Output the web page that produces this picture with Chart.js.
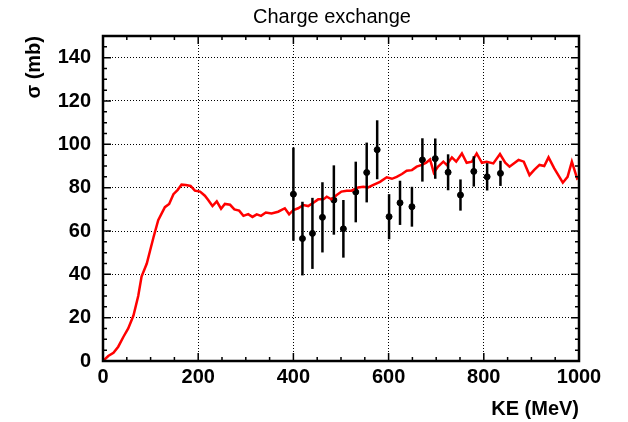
<!DOCTYPE html>
<html>
<head>
<meta charset="utf-8">
<script src="https://cdn.jsdelivr.net/npm/chart.js@4.4.1/dist/chart.umd.min.js"></script>
<style>
  html, body { margin: 0; padding: 0; background: #fff; }
</style>
</head>
<body>
<canvas id="chart" width="628" height="422"></canvas>
<script>
// model curve (red line)
const curveKE = [0, 11, 22, 32, 43, 53, 64, 74, 81, 92, 99, 106, 116, 130, 139, 148, 157, 165, 174, 184,
  193, 204, 214, 221, 230, 239, 248, 256, 267, 276, 286, 295, 305, 314, 323, 332, 342, 354, 368, 382,
  391, 400, 410, 421, 431, 442, 452, 463, 470, 480, 491, 501, 512, 522, 536, 547, 557, 567, 582, 596,
  607, 617, 628, 638, 649, 659, 670, 679, 687, 695, 704, 715, 722, 733, 742, 754, 764, 775, 785, 796,
  806, 820, 834, 845, 854, 863, 873, 884, 896, 906, 917, 927, 936, 948, 966, 976, 985, 996, 1000];
const curveSigma = [0, 2.3, 3.8, 6.6, 11.2, 15, 21, 30, 39, 45, 51, 57, 65, 71, 72.5, 77, 79, 81.4, 81.2, 80.8,
  78.6, 78.2, 76.3, 74.3, 71.5, 73.7, 70.3, 72.5, 72.1, 70, 69.4, 67, 67.8, 66.5, 67.7, 67, 68.5, 68.1, 68.9, 70.5,
  67.7, 69.7, 70.5, 72, 71.5, 73, 74.6, 74.6, 75.8, 74.6, 76.6, 78.2, 78.6, 78.6, 80.1, 80.4, 80.1, 81.2, 82.7, 84.8,
  84.1, 85, 86.3, 87.8, 88.1, 89.7, 90.5, 91.5, 93, 86.9, 89.7, 92, 90.5, 94, 92, 95.8, 91.5, 92, 95.8, 91.5,
  92, 91.2, 95.5, 91.5, 89.7, 91.2, 92.8, 92, 85.8, 88.2, 90.5, 90, 94, 88.9, 82.3, 85, 92, 84.3, 85];

// measured points with errors
const dataKE = [400, 419, 440, 461, 485, 505, 531, 554, 576, 601, 624, 649, 671, 698, 725, 751, 779, 807, 835];
const dataSigma = [77, 56.5, 58.9, 66.3, 74.3, 61, 78, 87, 97.5, 66.6, 73, 71.2, 92.8, 93.4, 87.1, 76.6, 87.5, 85, 86.6];
const dataErr = [21.5, 17, 16.4, 16.2, 16, 13.3, 14, 13.8, 13.6, 10.4, 10.2, 9.2, 10, 9.3, 8.3, 7.2, 7, 6.3, 5.8];

const xTicks = [0, 200, 400, 600, 800, 1000];
const yTicks = [0, 20, 40, 60, 80, 100, 120, 140];

const FONT = '"Liberation Sans", Arial, Helvetica, sans-serif';

const errorBars = {
  id: 'errorBars',
  afterDatasetsDraw(chart) {
    const { ctx, scales: { x, y } } = chart;
    ctx.save();
    ctx.strokeStyle = '#000';
    ctx.lineWidth = 2.5;
    dataKE.forEach((e, i) => {
      const px = x.getPixelForValue(e);
      ctx.beginPath();
      ctx.moveTo(px, y.getPixelForValue(dataSigma[i] - dataErr[i]));
      ctx.lineTo(px, y.getPixelForValue(dataSigma[i] + dataErr[i]));
      ctx.stroke();
    });
    ctx.restore();
  }
};

// ROOT style frame: thick box, inward ticks on all sides, title
const frame = {
  id: 'frame',
  afterDraw(chart) {
    const { ctx, chartArea: a, scales: { x, y } } = chart;
    ctx.save();
    ctx.strokeStyle = '#000';
    ctx.lineWidth = 1.5;
    ctx.beginPath();
    for (let v = 0; v <= 1000; v += 50) {
      const px = x.getPixelForValue(v);
      const len = v % 200 === 0 ? 8 : 4;
      ctx.moveTo(px, a.bottom); ctx.lineTo(px, a.bottom - len);
      ctx.moveTo(px, a.top); ctx.lineTo(px, a.top + len);
    }
    for (let v = 0; v <= 150; v += 5) {
      const py = y.getPixelForValue(v);
      const len = v % 20 === 0 ? 8 : 4;
      ctx.moveTo(a.left, py); ctx.lineTo(a.left + len, py);
      ctx.moveTo(a.right, py); ctx.lineTo(a.right - len, py);
    }
    ctx.stroke();
    ctx.lineWidth = 2.5;
    ctx.strokeRect(a.left, a.top, a.right - a.left, a.bottom - a.top);

    ctx.fillStyle = '#000';
    ctx.font = '20px ' + FONT;
    ctx.textAlign = 'center';
    ctx.textBaseline = 'middle';
    ctx.fillText('Charge exchange', 332, 17);
    ctx.restore();
  }
};

new Chart(document.getElementById('chart'), {
  data: {
    datasets: [
      {
        type: 'line',
        data: curveKE.map((e, i) => ({ x: e, y: curveSigma[i] })),
        borderColor: '#ff0000',
        borderWidth: 2.5,
        pointRadius: 0,
        tension: 0,
        fill: false
      },
      {
        type: 'scatter',
        data: dataKE.map((e, i) => ({ x: e, y: dataSigma[i] })),
        backgroundColor: '#000',
        borderColor: '#000',
        pointRadius: 3,
        pointHoverRadius: 3
      }
    ]
  },
  options: {
    responsive: false,
    devicePixelRatio: 1,
    animation: false,
    layout: { padding: { top: 36, right: 49, left: 0, bottom: 0 } },
    plugins: { legend: { display: false }, tooltip: { enabled: false } },
    scales: {
      x: {
        type: 'linear',
        min: 0,
        max: 1000,
        afterBuildTicks: s => { s.ticks = xTicks.map(v => ({ value: v })); },
        afterFit: s => { s.height = 61; },
        grid: { color: '#000', lineWidth: 1, drawTicks: false },
        border: { display: false, dash: [1, 2] },
        ticks: {
          color: '#000', padding: 4, maxRotation: 0,
          callback: v => String(v),
          font: { family: FONT, size: 20, weight: 'bold' }
        },
        title: {
          display: true, text: 'KE (MeV)', align: 'end', color: '#000',
          padding: { top: 0, bottom: 1 },
          font: { family: FONT, size: 20, weight: 'bold' }
        }
      },
      y: {
        type: 'linear',
        min: 0,
        max: 150,
        afterBuildTicks: s => { s.ticks = yTicks.map(v => ({ value: v })); },
        afterFit: s => { s.width = 103; },
        grid: { color: '#000', lineWidth: 1, drawTicks: false },
        border: { display: false, dash: [1, 2] },
        ticks: {
          color: '#000', padding: 12,
          callback: v => String(v),
          font: { family: FONT, size: 20, weight: 'bold' }
        },
        title: {
          display: true, text: 'σ (mb)', align: 'end', color: '#000',
          padding: { top: 22.5, bottom: 0 },
          font: { family: FONT, size: 20, weight: 'bold' }
        }
      }
    }
  },
  plugins: [errorBars, frame]
});
</script>
</body>
</html>
